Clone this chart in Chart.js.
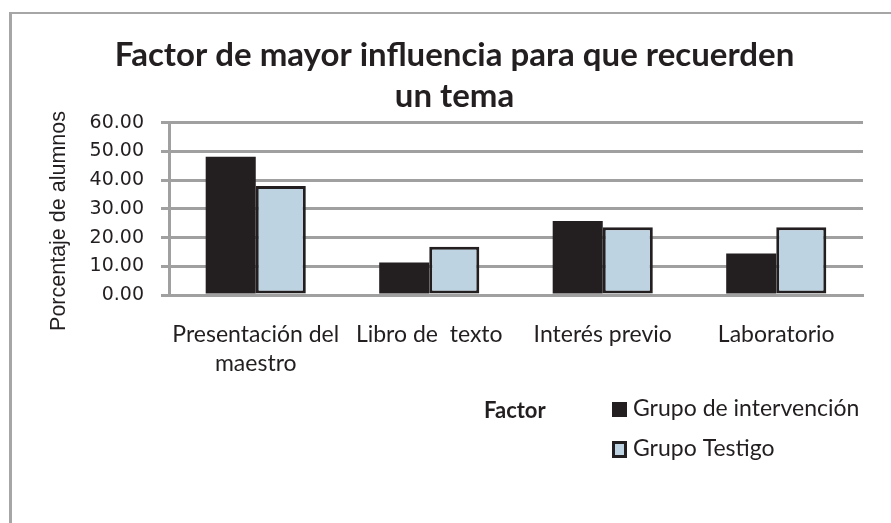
<!DOCTYPE html>
<html>
<head>
<meta charset="utf-8">
<script src="https://cdn.jsdelivr.net/npm/chart.js@4.4.1/dist/chart.umd.min.js"></script>
<style>
  html, body { margin: 0; padding: 0; background: #ffffff; overflow: hidden; }
  #wrap { position: relative; width: 891px; height: 523px; }
  #frame { position: absolute; left: 9px; top: 12px; width: 900px; height: 600px;
           border-left: 3px solid #a6a6a6; border-top: 2px solid #a6a6a6; }
  canvas { position: absolute; left: 0; top: 0; }
</style>
</head>
<body>
<div id="wrap">
  <div id="frame"></div>
  <canvas id="c" width="891" height="523"></canvas>
</div>
<script>
// ---- data ----
const titleLines = ["Factor de mayor influencia para que recuerden", "un tema"];
const categories = [["Presentación del", "maestro"], "Libro de  texto", "Interés previo", "Laboratorio"];
const seriesNames = ["Grupo de intervención", "Grupo Testigo"];
const grupoIntervencion = [48.2, 11.3, 25.8, 14.5];
const grupoTestigo = [38.0, 16.8, 23.6, 23.6];
const yAxisTitle = "Porcentaje de alumnos";
const xAxisTitle = "Factor";
const yTicks = [0, 10, 20, 30, 40, 50, 60];

const INK = '#231f20';
const GRID = '#a0a0a0';
const BLUE = '#bed3e1';

const annotationPlugin = {
  id: 'customLegend',
  afterDraw(chart) {
    const ctx = chart.ctx;
    ctx.save();
    // y axis title
    ctx.save();
    ctx.translate(59, 221);
    ctx.rotate(-Math.PI / 2);
    ctx.font = '21.5px "Liberation Sans"';
    ctx.fillStyle = INK;
    ctx.textAlign = 'center';
    ctx.textBaseline = 'middle';
    ctx.fillText(yAxisTitle, 0, 0);
    ctx.restore();
    // x axis title "Factor"
    ctx.font = 'bold 22px Lato';
    ctx.fillStyle = INK;
    ctx.textBaseline = 'middle';
    ctx.textAlign = 'left';
    ctx.fillText(xAxisTitle, 484, 411);
    // legend entries
    const rows = [409, 449];
    chart.data.datasets.forEach((ds, i) => {
      const y = rows[i];
      if (i === 0) {
        ctx.fillStyle = ds.backgroundColor;
        ctx.fillRect(612, y - 7, 15, 15);
      } else {
        ctx.fillStyle = ds.borderColor;
        ctx.fillRect(612, y - 8, 15, 17);
        ctx.fillStyle = ds.backgroundColor;
        ctx.fillRect(615, y - 5, 9, 11);
      }
      ctx.fillStyle = INK;
      ctx.font = '23px Lato';
      ctx.textBaseline = 'middle';
      ctx.fillText(ds.label, 633, y);
    });
    ctx.restore();
  }
};

new Chart(document.getElementById('c'), {
  type: 'bar',
  data: {
    labels: categories,
    datasets: [
      { label: seriesNames[0], data: grupoIntervencion, backgroundColor: INK, borderColor: INK, borderWidth: 0 },
      { label: seriesNames[1], data: grupoTestigo, backgroundColor: BLUE, borderColor: INK, borderWidth: 3, borderSkipped: false }
    ]
  },
  options: {
    responsive: false,
    animation: false,
    devicePixelRatio: 1,
    layout: { padding: { left: 46, right: 28, top: 0, bottom: 0 } },
    datasets: { bar: { categoryPercentage: 0.577, barPercentage: 1.0 } },
    plugins: {
      legend: { display: false },
      tooltip: { enabled: false },
      title: {
        display: true,
        text: titleLines,
        color: INK,
        font: { family: 'Lato', weight: 'bold', size: 33, lineHeight: 1.24 },
        padding: { top: 35, bottom: 6 }
      }
    },
    scales: {
      x: {
        grid: { display: false, drawTicks: false },
        border: { display: true, color: GRID, width: 3 },
        ticks: { color: INK, font: { family: 'Lato', size: 23, lineHeight: 1.22 }, padding: 26, maxRotation: 0, autoSkip: false },
        afterFit(scale) { scale.height = 228; }
      },
      y: {
        min: 0, max: 60,
        afterBuildTicks(scale) { scale.ticks = yTicks.map(v => ({ value: v })); },
        grid: { color: GRID, lineWidth: 3, tickLength: 8, drawTicks: true },
        border: { display: true, color: GRID, width: 3 },
        ticks: { color: INK, font: { family: 'DejaVu Sans', size: 19 }, padding: 17,
                 callback: (v) => Number(v).toFixed(2) },
        title: { display: false },
        afterFit(scale) { scale.width = 123; }
      }
    }
  },
  plugins: [annotationPlugin]
});
</script>
</body>
</html>
